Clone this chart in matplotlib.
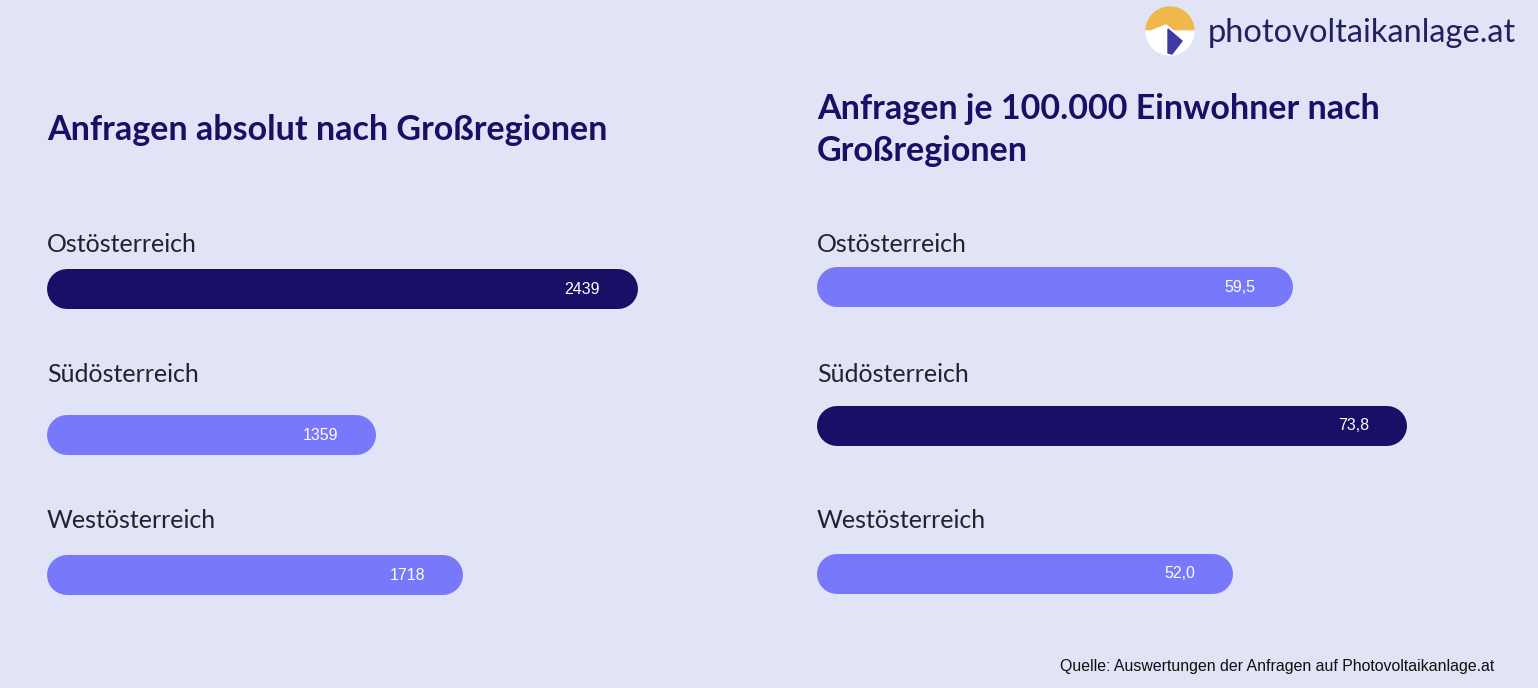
import matplotlib
matplotlib.use("Agg")
import matplotlib.pyplot as plt
from matplotlib.patches import Wedge, Polygon

plt.rcParams["font.family"] = ["Lato", "DejaVu Sans"]

# data
regions = ["Ostösterreich", "Südösterreich", "Westösterreich"]
abs_values = [2439, 1359, 1718]
abs_labels = ["2439", "1359", "1718"]
per100k_values = [59.5, 73.8, 52.0]
per100k_labels = ["59,5", "73,8", "52,0"]

BG = "#e1e3f6"
DARK = "#1a0f66"
LIGHT = "#7878fa"
W, H = 1538, 688

fig = plt.figure(figsize=(W / 100, H / 100), dpi=100, facecolor=BG)
over = fig.add_axes([0, 0, 1, 1])
over.set_xlim(0, W)
over.set_ylim(H, 0)
over.axis("off")


def panel(left_px, width_px, xmax, values, labels, bar_y, label_y, title, title_y, highlight):
    ax = fig.add_axes([left_px / W, 0, width_px / W, 1])
    ax.set_xlim(0, xmax)
    ax.set_ylim(H, 0)
    ax.axis("off")
    ax.patch.set_alpha(0)
    r = 20 * xmax / width_px  # bar half height in data units
    for i, (v, lab) in enumerate(zip(values, labels)):
        col = DARK if i == highlight else LIGHT
        ax.plot([r, v - r], [bar_y[i], bar_y[i]], color=col, lw=40 * 0.72,
                solid_capstyle="round")
        ax.text(v - 38 * xmax / width_px, bar_y[i], lab, color="white",
                fontsize=11.5, family="Liberation Sans", ha="right", va="center")
        ax.text(0, label_y[i], regions[i], color="#222233", fontsize=18,
                ha="left", va="center")
    ax.text(0, title_y, title, color=DARK, fontsize=24.5, fontweight="bold",
            ha="left", va="center", linespacing=1.4)


panel(47, 606, 2500, abs_values, abs_labels, [289, 435, 575], [245, 375, 521],
      "Anfragen absolut nach Großregionen", 130, 0)
panel(817, 640, 80, per100k_values, per100k_labels, [287, 426, 574], [245, 375, 521],
      "Anfragen je 100.000 Einwohner nach\nGroßregionen", 130, 1)

over.text(1494, 667, "Quelle: Auswertungen der Anfragen auf Photovoltaikanlage.at",
          fontsize=11.4, family="Liberation Sans", color="#111111", ha="right", va="center")

# logo
cx, cy, rr = 1170, 31, 24
over.add_patch(Wedge((cx, cy), rr, 180, 360, color="#f0b84a"))
over.add_patch(Wedge((cx, cy), rr, 0, 180, color="white"))
over.add_patch(Polygon([(cx - rr, cy + 2), (cx - 4, cy - 6), (cx + 6, cy + 2), (cx + 14, cy + 12),
                        (cx + 4, cy + rr), (cx - 14, cy + 20)], color="white"))
over.add_patch(Polygon([(cx - 2, cy - 2), (cx + 12, cy + 10), (cx + 2, cy + rr - 1), (cx - 2, cy + rr - 2)],
                       color="#3d3aa8"))
over.text(1208, 33, "photovoltaikanlage.at", fontsize=23.5, color="#22205e",
          ha="left", va="center")

fig.savefig("out.png", dpi=100, facecolor=BG)
